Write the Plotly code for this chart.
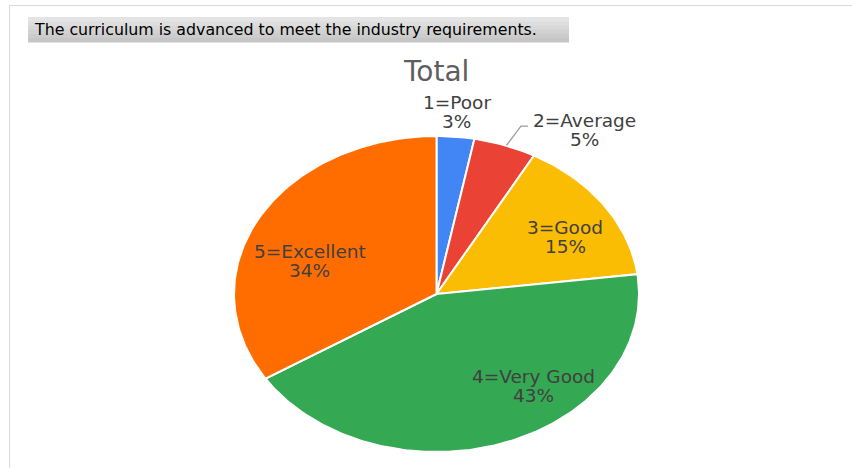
import numpy as np
import plotly.graph_objects as go

# data
categories = ["1=Poor", "2=Average", "3=Good", "4=Very Good", "5=Excellent"]
shares = [3, 5, 15, 43, 34]
colors = ["#4285F4", "#EA4335", "#FBBC04", "#34A853", "#FF6D01"]

header_text = "The curriculum is advanced to meet the industry requirements."
title_text = "Total"

# label centres in unit-ellipse coords (layout only)
label_pos = [(0.10, 1.15), (0.73, 1.04), (0.635, 0.36), (0.477, -0.58), (-0.625, 0.21)]

W, H = 852, 468
CX, CY, RX, RY = 436.5, 294, 202.5, 158  # pie centre / radii in pixels


def px(x):
    return x / W


def py(y):
    return 1 - y / H


fig = go.Figure()

# pie wedges, clockwise from 12 o'clock, on a stretched unit axis -> ellipse
total = sum(shares)
start = 0.0
mids = []
for name, v, c in zip(categories, shares, colors):
    a0 = start / total * 2 * np.pi
    a1 = (start + v) / total * 2 * np.pi
    t = np.linspace(a0, a1, max(8, int(v * 4)))
    xs = np.concatenate([[0], np.sin(t), [0]])
    ys = np.concatenate([[0], np.cos(t), [0]])
    fig.add_trace(go.Scatter(
        x=xs, y=ys, mode="lines", fill="toself", fillcolor=c,
        line=dict(color="white", width=2), name=name, showlegend=False,
        hoverinfo="name",
    ))
    mids.append((a0 + a1) / 2)
    start += v

# leader line for 2=Average
m = mids[1]
fig.add_trace(go.Scatter(
    x=[np.sin(m) * 1.02, 0.417, 0.452], y=[np.cos(m) * 1.0, 1.063, 1.063],
    mode="lines", line=dict(color="#9e9e9e", width=1.3),
    showlegend=False, hoverinfo="skip",
))

lab_font = dict(family="DejaVu Sans", size=18.5, color="#404040")
for name, v, (lx, ly) in zip(categories, shares, label_pos):
    fig.add_annotation(x=lx, y=ly, xref="x", yref="y", text=name, showarrow=False,
                       yshift=9.5, yanchor="middle", xanchor="center", font=lab_font)
    fig.add_annotation(x=lx, y=ly, xref="x", yref="y", text=f"{v}%", showarrow=False,
                       yshift=-9.5, yanchor="middle", xanchor="center", font=lab_font)

# title
fig.add_annotation(x=px(436), y=py(71), xref="paper", yref="paper", text=title_text,
                   showarrow=False, xanchor="center", yanchor="middle",
                   font=dict(family="DejaVu Sans", size=28, color="#5f5f5f"))

# header box with a simple vertical gradient
band_cols = ["#e4e4e4", "#dedede", "#d8d8d8", "#d2d2d2", "#cccccc", "#c6c6c6"]
y0, y1 = 17, 42
step = (y1 - y0) / len(band_cols)
for i, bc in enumerate(band_cols):
    fig.add_shape(type="rect", xref="paper", yref="paper",
                  x0=px(28), x1=px(569), y0=py(y0 + i * step), y1=py(y0 + (i + 1) * step + 0.5),
                  fillcolor=bc, line=dict(width=0), layer="below")
fig.add_annotation(x=px(32), y=py(29.5), xref="paper", yref="paper", text=header_text,
                   showarrow=False, xanchor="left", yanchor="middle",
                   font=dict(family="DejaVu Sans", size=15.8, color="#000000"))

# frame lines
fig.add_shape(type="line", xref="paper", yref="paper", x0=px(9.5), x1=1, y0=py(5.5), y1=py(5.5),
              line=dict(color="#d9d9d9", width=1))
fig.add_shape(type="line", xref="paper", yref="paper", x0=px(9.5), x1=px(9.5), y0=py(5.5), y1=0,
              line=dict(color="#d9d9d9", width=1))

fig.update_layout(
    width=W, height=H,
    margin=dict(l=0, r=0, t=0, b=0),
    paper_bgcolor="white", plot_bgcolor="white",
    xaxis=dict(domain=[0, 1], range=[-CX / RX, (W - CX) / RX], visible=False, fixedrange=True),
    yaxis=dict(domain=[0, 1], range=[(CY - H) / RY, CY / RY], visible=False, fixedrange=True),
    showlegend=False,
)

fig.write_html("out.html", config={"displayModeBar": False},
               post_script="document.body.style.margin='0px';")
